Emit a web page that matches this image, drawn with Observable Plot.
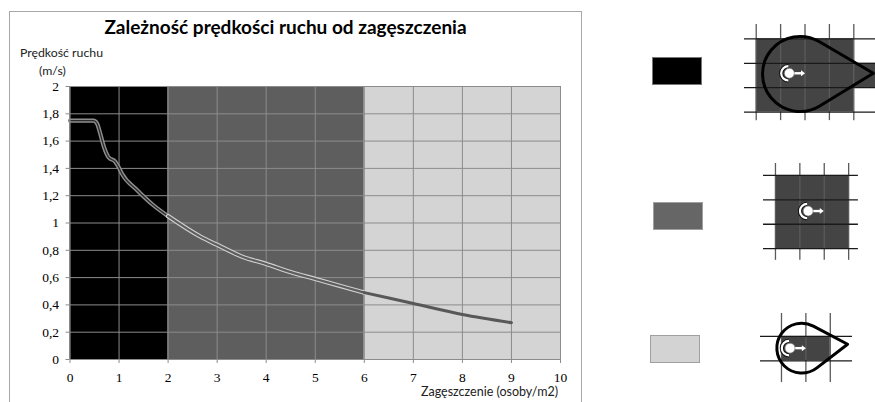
<!DOCTYPE html>
<html><head><meta charset="utf-8">
<script src="https://cdn.jsdelivr.net/npm/d3@7"></script>
<script src="https://cdn.jsdelivr.net/npm/@observablehq/plot@0.6"></script>
<style>
html,body{margin:0;padding:0;background:#fff;}
#root{position:relative;width:875px;height:402px;overflow:hidden;font-family:Lato,"Open Sans",sans-serif;color:#111;}
.abs{position:absolute;white-space:nowrap;}
</style></head><body><div id="root"></div>
<script>
// ---- data ----
const density = [0, 0.3, 0.48, 0.55, 0.62, 0.69, 0.79, 0.92, 0.99, 1.06, 1.37, 1.70, 2.0, 2.66, 3.0, 3.5, 4.0, 4.5, 5.0, 5.5, 6.0, 7.0, 8.0, 9.0];
const speed   = [1.75, 1.75, 1.75, 1.73, 1.65, 1.56, 1.48, 1.45, 1.41, 1.36, 1.24, 1.13, 1.05, 0.90, 0.84, 0.755, 0.70, 0.64, 0.59, 0.54, 0.49, 0.41, 0.33, 0.27];
const zoneStart = [0, 2, 6];
const zoneEnd   = [2, 6, 10];
const zoneColors = ["#000000", "#5e5e5e", "#d4d4d4"];
const swatchColors = ["#000000", "#666666", "#d3d3d3"];
const xTicks = [0, 1, 2, 3, 4, 5, 6, 7, 8, 9, 10];
const yTicks = [0, 0.2, 0.4, 0.6, 0.8, 1, 1.2, 1.4, 1.6, 1.8, 2];
const titleText = "Zależność prędkości ruchu od zagęszczenia";
const yLabelLines = ["Prędkość ruchu", "(m/s)"];
const xLabelText = "Zagęszczenie (osoby/m2)";

const root = document.getElementById("root");
const fmt = d => String(d).replace(".", ",");

// frame
const frame = document.createElement("div");
frame.className = "abs";
Object.assign(frame.style, {left:"9px", top:"11px", width:"571px", height:"420px", border:"1.3px solid #a8a8a8"});
root.appendChild(frame);

// ---- main chart ----
const pts = density.map((x, i) => ({x, y: speed[i]}));
const zones = zoneStart.map((s, i) => ({x1: s, x2: zoneEnd[i], fill: zoneColors[i]}));
const lineStyles = [
  [{stroke: "#8e8e8e", w: 4.2}, {stroke: "#2a2a2a", w: 1.3}],
  [{stroke: "#d0d0d0", w: 4.4}, {stroke: "#5e5e5e", w: 2.2}],
  [{stroke: "#585858", w: 3}]
];
const lineMarks = zones.flatMap((z, i) => lineStyles[i].map(s =>
  Plot.line(pts.filter(p => p.x >= z.x1 && p.x <= z.x2), {x: "x", y: "y", stroke: s.stroke, strokeWidth: s.w, curve: "monotone-x"})));

const tickFont = "Liberation Serif";
const chart = Plot.plot({
  width: 600, height: 402,
  marginLeft: 69.5, marginRight: 40, marginTop: 86, marginBottom: 43,
  x: {domain: [0, 10]},
  y: {domain: [0, 2]},
  style: {background: "transparent", fontFamily: tickFont, fontSize: "13.5px", color: "#000"},
  marks: [
    Plot.rect(zones, {x1: "x1", x2: "x2", y1: 0, y2: 2, fill: "fill"}),
    Plot.ruleX(xTicks.slice(1), {stroke: "#8c8c8c", strokeWidth: 1}),
    Plot.ruleY(yTicks.slice(1), {stroke: "#8c8c8c", strokeWidth: 1}),
    ...lineMarks,
    Plot.ruleX([0], {stroke: "#8c8c8c", strokeWidth: 1.2}),
    Plot.ruleY([0], {stroke: "#8c8c8c", strokeWidth: 1.2}),
    Plot.axisX({ticks: xTicks, tickFormat: fmt, tickSize: 4, tickPadding: 9, stroke: "#8c8c8c", fill: "#000", label: null, fontFamily: tickFont, fontSize: 13.5}),
    Plot.axisY({ticks: yTicks, tickFormat: fmt, tickSize: 4, tickPadding: 7, stroke: "#8c8c8c", fill: "#000", label: null, fontFamily: tickFont, fontSize: 13.5})
  ]
});
chart.style.position = "absolute";
chart.style.left = "0px";
chart.style.top = "0px";
root.appendChild(chart);

function addText(txt, css) {
  const d = document.createElement("div");
  d.className = "abs";
  d.textContent = txt;
  Object.assign(d.style, css);
  root.appendChild(d);
  return d;
}
addText(titleText, {left: "103px", width: "365px", textAlign: "center", top: "17px", fontSize: "19px", fontWeight: "700", lineHeight: "20px", color: "#000"});
addText(yLabelLines[0], {left: "20px", top: "46px", fontSize: "12.3px", lineHeight: "14px", color: "#222"});
addText(yLabelLines[1], {left: "39px", top: "64px", fontSize: "12.3px", lineHeight: "14px", color: "#222"});
addText(xLabelText, {right: String(875 - 558) + "px", top: "385px", fontSize: "12.5px", lineHeight: "14px", color: "#222"});

// ---- legend swatches ----
const swatchLayout = [{left: 652, top: 57}, {left: 653, top: 202}, {left: 650, top: 335}];
swatchColors.forEach((c, i) => {
  const s = document.createElement("div");
  s.className = "abs";
  Object.assign(s.style, {left: swatchLayout[i].left + "px", top: swatchLayout[i].top + "px", width: "50px", height: "28px", background: c,
    boxSizing: "border-box", border: "1px solid " + (i === 0 ? "#777" : "#a0a0a0")});
  root.appendChild(s);
});

// ---- space diagrams (grid units) ----
const cellPx = 24.4;
const diagrams = [
  {left: 744, top: 24, xd: [-0.48, 4.89], yd: [-0.59, 3.35], cols: [0,1,2,3,4], rows: [0,1,2,3],
   cells: [{x1:0,x2:4,y1:0,y2:3},{x1:4,x2:5,y1:1,y2:2}],
   drop: {cx:1.82, cy:1.46, r:1.54, tx:4.82, ty:1.43}, person: {x:1.38, y:1.43, ax:2.02}},
  {left: 763, top: 163, xd: [-0.49, 3.40], yd: [-0.49, 3.48], cols: [0,1,2,3], rows: [0,1,2,3],
   cells: [{x1:0,x2:3,y1:0,y2:3}], drop: null, person: {x:1.36, y:1.48, ax:2.0}},
  {left: 760, top: 313, xd: [-0.86, 2.91], yd: [-0.94, 1.89], cols: [0,1,2], rows: [0,1],
   cells: [{x1:0,x2:2,y1:0,y2:1}],
   drop: {cx:0.85, cy:0.5, r:1.02, tx:2.73, ty:0.34}, person: {x:0.37, y:0.5, ax:1.02}}
];
const NS = "http://www.w3.org/2000/svg";
function el(tag, attrs) { const e = document.createElementNS(NS, tag); for (const k in attrs) e.setAttribute(k, attrs[k]); return e; }

function dropMark(dd) {
  return (index, {x, y}) => {
    const px = x(dd.cx), py = y(dd.cy), pr = Math.abs(x(dd.cx + dd.r) - x(dd.cx));
    const tX = x(dd.tx), tY = y(dd.ty);
    const a = Math.atan2(tY - py, tX - px), d = Math.hypot(tX - px, tY - py), b = Math.acos(pr / d);
    const p1 = [px + pr * Math.cos(a + b), py + pr * Math.sin(a + b)];
    const p2 = [px + pr * Math.cos(a - b), py + pr * Math.sin(a - b)];
    const g = el("g", {});
    g.appendChild(el("path", {d: `M${p1}L${tX},${tY}L${p2}A${pr},${pr} 0 1 0 ${p1}Z`, fill: "none", stroke: "#000", "stroke-width": 3, "stroke-linejoin": "round"}));
    return g;
  };
}
function personMark(p) {
  return (index, {x, y}) => {
    const hx = x(p.x), hy = y(p.y), ex = x(p.ax), hr = 5;
    const g = el("g", {});
    const cr = hr + 2.2;
    const sh = `M${hx - 1},${hy - cr}A${cr},${cr} 0 0 0 ${hx - 1},${hy + cr}`;
    g.appendChild(el("path", {d: sh, fill: "none", stroke: "#111", "stroke-width": 4.2}));
    g.appendChild(el("path", {d: sh, fill: "none", stroke: "#fff", "stroke-width": 2.2}));
    g.appendChild(el("line", {x1: hx, y1: hy, x2: ex - 3, y2: hy, stroke: "#fff", "stroke-width": 2.4}));
    g.appendChild(el("path", {d: `M${ex - 4},${hy - 3}L${ex},${hy}L${ex - 4},${hy + 3}Z`, fill: "#fff"}));
    g.appendChild(el("circle", {cx: hx, cy: hy, r: hr, fill: "#fff", stroke: "#666", "stroke-width": 0.6}));
    return g;
  };
}

diagrams.forEach(dg => {
  const w = (dg.xd[1] - dg.xd[0]) * cellPx, h = (dg.yd[1] - dg.yd[0]) * cellPx;
  const marks = [
    Plot.rect(dg.cells, {x1: "x1", x2: "x2", y1: "y1", y2: "y2", fill: "#444444"}),
    Plot.ruleX(dg.cols, {stroke: "#5a5a5a", strokeWidth: 1.3}),
    Plot.ruleY(dg.rows, {stroke: "#1a1a1a", strokeWidth: 1.3}),
    personMark(dg.person)
  ];
  if (dg.drop) marks.push(dropMark(dg.drop));
  const p = Plot.plot({
    width: w, height: h, margin: 0,
    x: {domain: dg.xd, axis: null},
    y: {domain: dg.yd, axis: null, reverse: true},
    style: {background: "transparent", overflow: "visible"},
    marks
  });
  p.style.position = "absolute";
  p.style.left = dg.left + "px";
  p.style.top = dg.top + "px";
  root.appendChild(p);
});
</script></body></html>
